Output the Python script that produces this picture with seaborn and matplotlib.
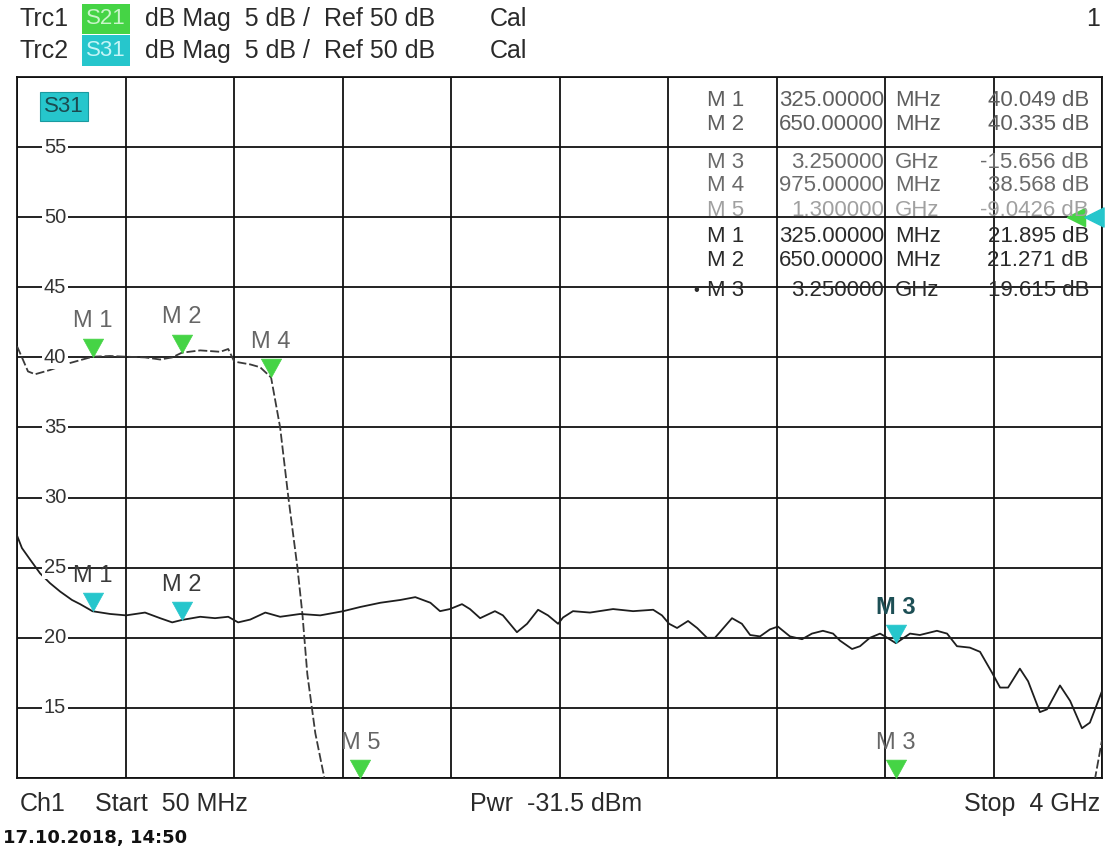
import numpy as np
import pandas as pd
import matplotlib
matplotlib.use("Agg")
import matplotlib.pyplot as plt
from matplotlib.path import Path
from matplotlib.patches import Rectangle
import seaborn as sns

# ---- trace data (frequency in MHz, magnitude in dB) ----
s21_freq = [50, 68, 90, 116, 170, 243, 325, 389, 447, 516, 571, 615, 650, 717,
            790, 819, 841, 899, 935, 975, 1008, 1038, 1071, 1089, 1107, 1136,
            1169, 1300, 3250, 3975, 4000]
s21_db = [40.8, 40.0, 39.0, 38.8, 39.1, 39.6, 40.049, 40.1, 40.05, 40.0, 39.85,
          40.0, 40.335, 40.5, 40.4, 40.6, 39.7, 39.5, 39.3, 38.568, 35.0, 30.0,
          25.0, 21.7, 17.4, 13.2, 10.0, -9.0426, -15.656, 10.0, 12.7]

s31_freq = [50, 68, 97, 134, 170, 207, 250, 280, 325, 389, 447, 516, 571, 615,
            650, 717, 771, 819, 855, 899, 954, 1008, 1081, 1154, 1238, 1300,
            1373, 1446, 1500, 1555, 1590, 1626, 1670, 1699, 1736, 1790, 1819,
            1870, 1907, 1947, 1983, 2020, 2038, 2074, 2136, 2220, 2293, 2366,
            2398, 2424, 2453, 2493, 2526, 2562, 2591, 2653, 2689, 2719, 2755,
            2791, 2820, 2864, 2908, 2944, 2984, 3021, 3046, 3090, 3119, 3155,
            3192, 3210, 3250, 3301, 3337, 3399, 3436, 3472, 3519, 3556, 3600,
            3629, 3658, 3701, 3731, 3774, 3800, 3847, 3884, 3927, 3956, 4000]
s31_db = [27.3, 26.4, 25.6, 24.6, 23.9, 23.3, 22.7, 22.4, 21.895, 21.7, 21.6,
          21.8, 21.4, 21.1, 21.271, 21.5, 21.4, 21.5, 21.1, 21.3, 21.8, 21.5,
          21.7, 21.6, 21.9, 22.2, 22.5, 22.7, 22.9, 22.5, 21.9, 22.05, 22.4,
          22.05, 21.4, 21.9, 21.6, 20.4, 21.0, 22.0, 21.6, 21.0, 21.45, 21.9,
          21.8, 22.05, 21.9, 22.0, 21.6, 21.0, 20.7, 21.2, 20.7, 20.0, 20.0,
          21.4, 21.0, 20.2, 20.1, 20.6, 20.8, 20.1, 19.9, 20.3, 20.5, 20.3,
          19.8, 19.2, 19.4, 20.0, 20.3, 20.1, 19.615, 20.3, 20.2, 20.5, 20.3,
          19.4, 19.3, 19.0, 17.5, 16.45, 16.45, 17.8, 16.9, 14.7, 14.9, 16.6,
          15.5, 13.55, 13.95, 16.2]

# ---- markers ----
trc1_names = ["M 1", "M 2", "M 3", "M 4", "M 5"]
trc1_freq = [325, 650, 3250, 975, 1300]
trc1_val = [40.049, 40.335, -15.656, 38.568, -9.0426]

trc2_names = ["M 1", "M 2", "M 3"]
trc2_freq = [325, 650, 3250]
trc2_val = [21.895, 21.271, 19.615]

# ---- scale ----
f_start, f_stop = 50, 4000
y_min, y_max, y_div = 10, 60, 5
y_labels = [15, 20, 25, 30, 35, 40, 45, 50, 55]

W, H = 1113, 852
sns.set_style("white")
plt.rcParams["font.family"] = ["Liberation Sans", "DejaVu Sans"]

GREEN = "#45d445"
CYAN = "#26c6cc"

fig = plt.figure(figsize=(W / 100, H / 100), dpi=100)
fig.patch.set_facecolor("white")
ax = fig.add_axes([17 / W, (H - 778) / H, 1085 / W, 701 / H])

df21 = pd.DataFrame({"f": s21_freq, "db": s21_db})
df31 = pd.DataFrame({"f": s31_freq, "db": s31_db})
sns.lineplot(data=df21, x="f", y="db", ax=ax, estimator=None, sort=False,
             color="#3a3a3a", lw=1.3, dashes=False, linestyle=(0, (5, 1.6)), zorder=3)
sns.lineplot(data=df31, x="f", y="db", ax=ax, estimator=None, sort=False,
             color="#1e1e1e", lw=1.3, zorder=3)

ax.set_xlim(f_start, f_stop)
ax.set_ylim(y_min, y_max)
step = (f_stop - f_start) / 10
ax.set_xticks([f_start + k * step for k in range(11)])
ax.set_yticks(np.arange(y_min, y_max + 1, y_div))
ax.grid(True, color="#111111", lw=1.3)
ax.tick_params(length=0, labelbottom=False, labelleft=False)
ax.set_xlabel("")
ax.set_ylabel("")
for sp in ax.spines.values():
    sp.set_visible(True)
    sp.set_color("#111111")
    sp.set_linewidth(1.3)

# y scale labels sitting on the grid lines
for v in y_labels:
    ax.text(0.035, v, str(v), transform=ax.get_yaxis_transform(), ha="center",
            va="center", fontsize=14.5, color="#333333", zorder=4,
            bbox=dict(boxstyle="square,pad=0.1", fc="white", ec="none"))

# marker triangles with the tip on the trace value
tri = Path([(-0.55, 1.0), (0.55, 1.0), (0.0, 0.0), (-0.55, 1.0)],
           [Path.MOVETO, Path.LINETO, Path.LINETO, Path.CLOSEPOLY])


def draw_markers(names, freqs, vals, color, label_color, active=None):
    shown = [max(v, y_min) for v in vals]
    sns.scatterplot(x=freqs, y=shown, ax=ax, marker=tri, s=700, color=color,
                    edgecolor=color, linewidth=0.5, zorder=6, clip_on=False,
                    legend=False)
    for i, (n, f, v) in enumerate(zip(names, freqs, shown)):
        bold = (i == active)
        ax.annotate(n, (f, v), xytext=(0, 25.5), textcoords="offset points",
                    ha="center", va="center", fontsize=17,
                    color="#1d4f55" if bold else label_color,
                    fontweight="bold" if bold else "normal", zorder=7)


draw_markers(trc1_names, trc1_freq, trc1_val, GREEN, "#666666")
draw_markers(trc2_names, trc2_freq, trc2_val, CYAN, "#3a3a3a", active=2)

# reference level indicators on the right edge
span = f_stop - f_start
ax.scatter([f_stop - 0.024 * span], [50], marker="<", s=170, color=GREEN,
           zorder=6, clip_on=False)
ax.scatter([f_stop - 0.0075 * span], [50], marker="<", s=190, color=CYAN,
           zorder=7, clip_on=False)

# S31 tag in the diagram
ax.add_artist(Rectangle((40 / W, 1 - 121 / H), 48 / W, 29 / H,
                        transform=fig.transFigure, fc=CYAN, ec="#1a9aa0",
                        lw=0.8, zorder=8))
fig.text(64 / W, 1 - 106 / H, "S31", ha="center", va="center", fontsize=16,
         color="#1b4a50", zorder=9)


def ftext(x, y, s, **kw):
    kw.setdefault("fontsize", 16)
    kw.setdefault("color", "#2a2a2a")
    fig.text(x / W, 1 - y / H, s, va="center", **kw)


# header
ftext(20, 19, "Trc1", fontsize=18)
ftext(20, 51, "Trc2", fontsize=18)
fig.patches.append(Rectangle((82 / W, 1 - 34 / H), 48 / W, 30 / H,
                             transform=fig.transFigure, fc=GREEN, ec="none"))
fig.patches.append(Rectangle((82 / W, 1 - 66 / H), 48 / W, 31 / H,
                             transform=fig.transFigure, fc=CYAN, ec="none"))
ftext(106, 19, "S21", ha="center", color="#c9f5c9", fontsize=16)
ftext(106, 51, "S31", ha="center", color="#c5f5f7", fontsize=16)
ftext(145, 19, "dB Mag  5 dB /  Ref 50 dB", fontsize=18)
ftext(145, 51, "dB Mag  5 dB /  Ref 50 dB", fontsize=18)
ftext(490, 19, "Cal", fontsize=18)
ftext(490, 51, "Cal", fontsize=18)
ftext(1100, 19, "1", ha="right", fontsize=18)


def fmt_freq(f):
    return f"{f:.5f}" if f < 1000 else f"{f / 1000:.6f}"


def fmt_unit(f):
    return "MHz" if f < 1000 else "GHz"


rows_y1 = [101, 124, 162, 186, 210]
rows_y2 = [237, 260, 290]
row_colors1 = ["#5e5e5e", "#5e5e5e", "#6a6a6a", "#6a6a6a", "#a0a0a0"]
for n, f, v, y, c in zip(trc1_names, trc1_freq, trc1_val, rows_y1, row_colors1):
    ftext(707, y, n, color=c)
    ftext(884, y, fmt_freq(f), ha="right", color=c)
    ftext(895, y, fmt_unit(f), color=c)
    ftext(1089, y, f"{v:.5g} dB", ha="right", color=c)
for i, (n, f, v, y) in enumerate(zip(trc2_names, trc2_freq, trc2_val, rows_y2)):
    c = "#2a2a2a"
    if i == 2:
        ftext(693, y, "\u2022", color=c, fontsize=12)
    ftext(707, y, n, color=c)
    ftext(884, y, fmt_freq(f), ha="right", color=c)
    ftext(895, y, fmt_unit(f), color=c)
    ftext(1089, y, f"{v:.5g} dB", ha="right", color=c)

# footer
ftext(20, 804, "Ch1", fontsize=18)
ftext(95, 804, "Start  50 MHz", fontsize=18)
ftext(470, 804, "Pwr  -31.5 dBm", fontsize=18)
ftext(1100, 804, "Stop  4 GHz", ha="right", fontsize=18)
fig.text(3 / W, 1 - 838 / H, "17.10.2018, 14:50", va="center", fontsize=13,
         fontweight="bold", color="#111111", family="DejaVu Sans")

fig.savefig("out.png", dpi=100, facecolor="white")
